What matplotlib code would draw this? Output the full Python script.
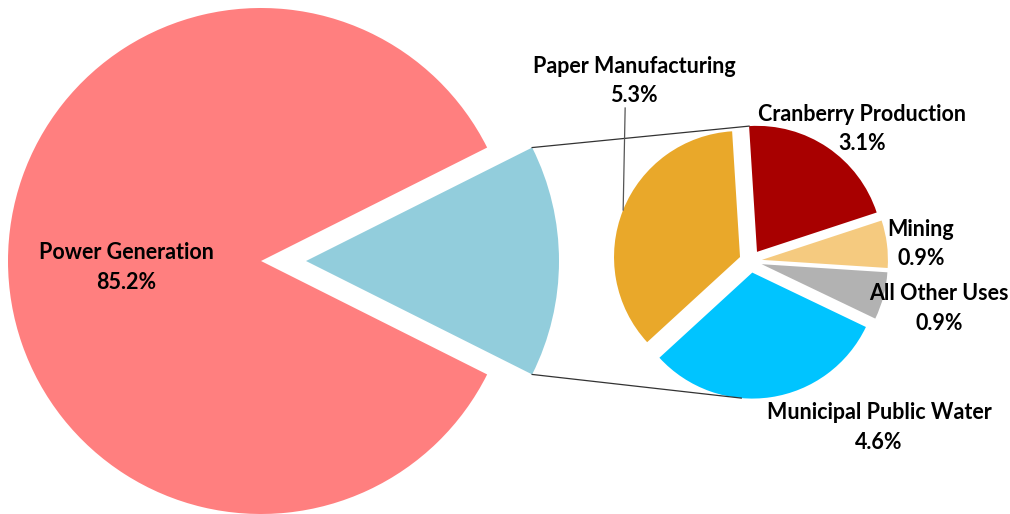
import math
import matplotlib
matplotlib.use("Agg")
import matplotlib.pyplot as plt

# main pie
main_labels = ["Power Generation", "Other"]
main_values = [85.2, 14.8]
main_colors = ["#FF7F7F", "#92CDDC"]

# breakdown of "Other" (clockwise from the top)
sub_labels = ["Cranberry Production", "Mining", "All Other Uses",
              "Municipal Public Water", "Paper Manufacturing"]
sub_values = [3.1, 0.9, 0.9, 4.6, 5.3]
sub_colors = ["#A80000", "#F5CA7F", "#B2B2B2", "#00C4FF", "#E9A82A"]

W, H = 1010, 514
plt.rcParams['font.family'] = ['Lato', 'DejaVu Sans']

fig = plt.figure(figsize=(W / 100, H / 100), dpi=100)
ax = fig.add_axes([0, 0, 1, 1])

main_c = (261, 253)
main_r = 253
sub_c = (750.6, 252.7)
sub_r = 126

# explode is an absolute offset in data units here
mw, _ = ax.pie(main_values, colors=main_colors, center=main_c, radius=main_r,
               startangle=main_values[1] / 100 * 360 / 2,
               explode=[0, 45], wedgeprops=dict(linewidth=0))
sw, _ = ax.pie(sub_values, colors=sub_colors, center=sub_c, radius=sub_r,
               startangle=93.6, counterclock=False,
               explode=[11.4] * len(sub_values), wedgeprops=dict(linewidth=0))


def edge_pt(w, ang):
    cx, cy = w.center
    return cx + w.r * math.cos(math.radians(ang)), cy + w.r * math.sin(math.radians(ang))


# connector lines from the exploded slice to the sub pie
blue = mw[1]
p1 = edge_pt(blue, blue.theta2)
p2 = edge_pt(sw[0], sw[0].theta2)
ax.plot([p1[0], p2[0]], [p1[1], p2[1]], color="#333333", lw=0.9)
p1 = edge_pt(blue, blue.theta1)
p2 = edge_pt(sw[3], 265)
ax.plot([p1[0], p2[0]], [p1[1], p2[1]], color="#333333", lw=0.9)

# leader line for paper manufacturing
pw = sw[4]
mid = (pw.theta1 + pw.theta2) / 2
lp = edge_pt(pw, mid)
ax.plot([lp[0], lp[0] + 2], [lp[1], 406], color="#555555", lw=0.9)

# labels
label_pos = {
    "Power Generation": (126, 246.5),
    "Paper Manufacturing": (634, 433),
    "Cranberry Production": (862, 385),
    "Mining": (921, 270),
    "All Other Uses": (939, 205.5),
    "Municipal Public Water": (879, 86.5),
}
all_labels = [main_labels[0]] + sub_labels
all_values = [main_values[0]] + sub_values
for lab, val in zip(all_labels, all_values):
    x, y = label_pos[lab]
    ax.text(x, y, f"{lab}\n{val:.1f}%", ha="center", va="center",
            fontsize=15.5, fontweight="bold", color="black", linespacing=1.5)

ax.set_xlim(0, W)
ax.set_ylim(0, H)
ax.set_aspect("equal")
ax.axis("off")

fig.savefig("out.png", dpi=100)
